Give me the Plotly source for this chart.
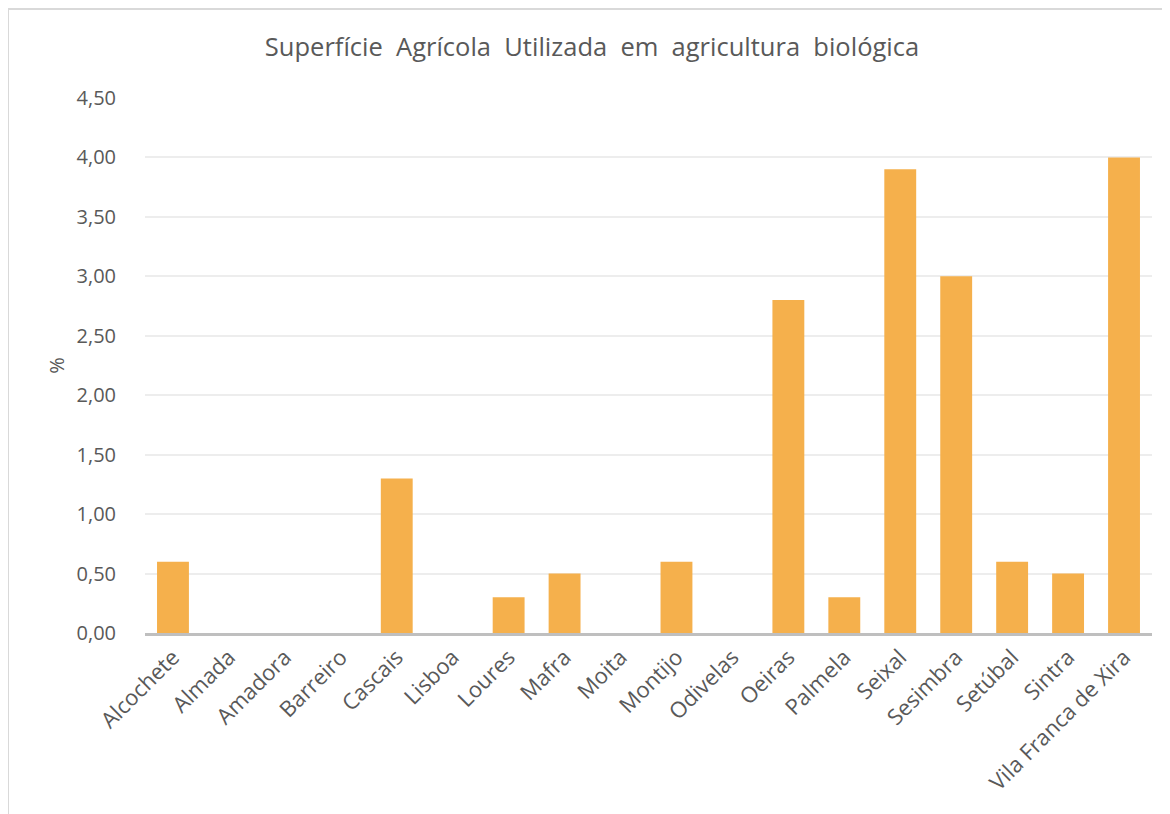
import plotly.graph_objects as go

categories = ["Alcochete", "Almada", "Amadora", "Barreiro", "Cascais", "Lisboa", "Loures",
              "Mafra", "Moita", "Montijo", "Odivelas", "Oeiras", "Palmela", "Seixal",
              "Sesimbra", "Setúbal", "Sintra", "Vila Franca de Xira"]
values = [0.6, 0, 0, 0, 1.3, 0, 0.3, 0.5, 0, 0.6, 0, 2.8, 0.3, 3.9, 3.0, 0.6, 0.5, 4.0]
title_text = "Superfície\u00a0 Agrícola\u00a0 Utilizada\u00a0 em\u00a0 agricultura\u00a0 biológica"
y_title = "%"

FONT = "Open Sans, Carlito, Calibri, sans-serif"
GREY = "#595959"

fig = go.Figure(go.Bar(x=categories, y=values, marker_color="#F5B04C", marker_line_width=0))

OFF = 8  # page body margin
W, H = 1170 - OFF, 814 - OFF
ml, mr, mt, mb = 145 - OFF, 18, 98 - OFF, 181
pw, ph = W - ml - mr, H - mt - mb

def px(x):
    return (x - OFF - ml) / pw

def py(y):
    return (H - mb - (y - OFF)) / ph

fig.update_layout(
    width=W, height=H,
    margin=dict(l=ml, r=mr, t=mt, b=mb),
    paper_bgcolor="white", plot_bgcolor="white",
    separators=",.",
    bargap=0.43,
    showlegend=False,
    font=dict(family=FONT, color=GREY),
    title=dict(text=title_text, x=(592 - OFF) / W, xanchor="center", y=1 - (47 - OFF) / H,
               yanchor="middle", font=dict(size=25.5, color=GREY, family=FONT)),
    xaxis=dict(tickangle=-45, tickfont=dict(size=22, color=GREY), showgrid=False,
               showline=True, linecolor="#BFBFBF", linewidth=2.5, ticks="",
               ticklabelstandoff=0),
    yaxis=dict(range=[0, 4.5], dtick=0.5, tickformat=".2f", tickfont=dict(size=20, color=GREY),
               gridcolor="#EDEDED", gridwidth=1.5, zeroline=False, showline=False, ticks="",
               ticklabelstandoff=28,
               title=dict(text=y_title, font=dict(size=20, color=GREY), standoff=6)),
    shapes=[
        dict(type="line", xref="paper", yref="paper", x0=px(8), x1=px(8), y0=py(9), y1=py(830),
             line=dict(color="#D9D9D9", width=2)),
        dict(type="line", xref="paper", yref="paper", x0=px(8), x1=px(1200), y0=py(9), y1=py(9),
             line=dict(color="#D9D9D9", width=2)),
    ],
)

fig.write_html("out.html")
